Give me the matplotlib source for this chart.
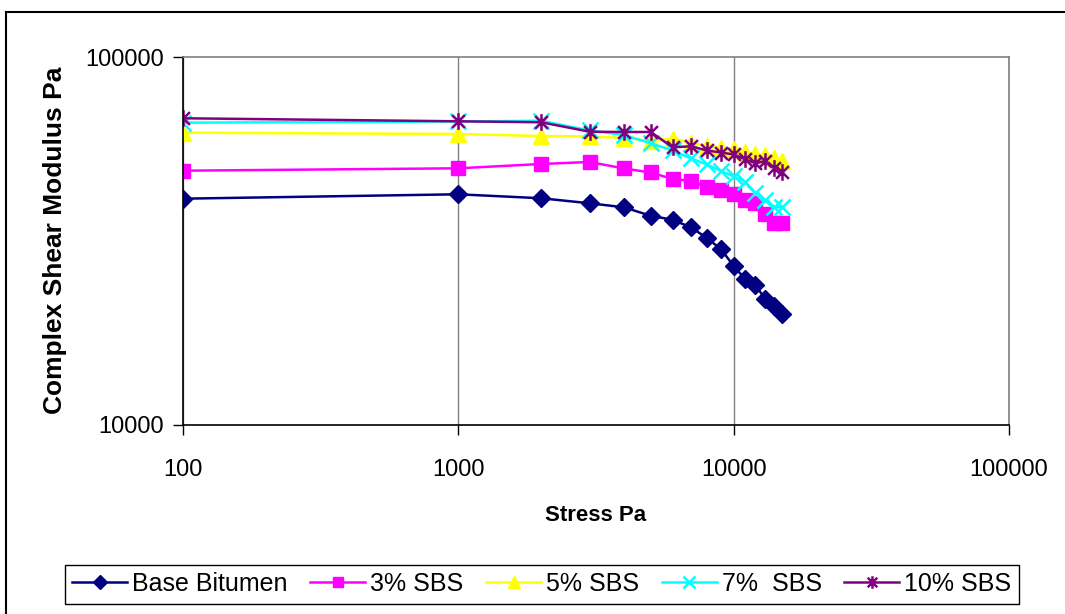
import matplotlib
matplotlib.use("Agg")
import matplotlib.pyplot as plt
from matplotlib.path import Path
from matplotlib.lines import Line2D
from matplotlib.ticker import FixedLocator, FixedFormatter, NullLocator

plt.rcParams['font.family'] = ['Liberation Sans', 'DejaVu Sans']

stress = [100, 1000, 2000, 3000, 4000, 5000, 6000, 7000, 8000, 9000,
          10000, 11000, 12000, 13000, 14000, 15000]

base_bitumen = [41160, 42310, 41270, 39990, 38990, 36970, 36080, 34370, 32170,
                29970, 27000, 24890, 23970, 21950, 21050, 19950]
sbs_3 = [49050, 49790, 51150, 51800, 49730, 48500, 46560, 46040, 44200,
         43470, 42390, 40900, 40060, 37390, 35410, 35410]
sbs_5 = [62230, 61730, 60950, 60770, 60200, 59080, 60010, 58460, 57260,
         56550, 56020, 55150, 54290, 53950, 53120, 52120]
sbs_7 = [66260, 66760, 67060, 63100, 61340, 58240, 55670, 52950, 50990,
         48960, 47300, 45790, 42580, 40820, 39140, 38950]
sbs_10 = [68120, 66840, 66430, 62620, 62510, 62510, 56800, 57150, 55670,
          54970, 54290, 52720, 51370, 52120, 50040, 48560]

series_names = ["Base Bitumen", "3% SBS", "5% SBS", "7%  SBS", "10% SBS"]
x_ticks = [100, 1000, 10000, 100000]
x_tick_labels = ["100", "1000", "10000", "100000"]
y_ticks = [10000, 100000]
y_tick_labels = ["10000", "100000"]

star = Path([(-1, -1), (1, 1), (-1, 1), (1, -1), (0, -1.3), (0, 1.3)],
            [Path.MOVETO, Path.LINETO, Path.MOVETO, Path.LINETO, Path.MOVETO, Path.LINETO])

fig = plt.figure(figsize=(10.65, 6.14), dpi=100)
ax = fig.add_axes([183 / 1065, 1 - 424.5 / 614, (1009 - 183) / 1065, (424.5 - 57) / 614])

styles = [
    dict(color="#000080", marker="D", markersize=9, markerfacecolor="#000080", markeredgecolor="#000080"),
    dict(color="#FF00FF", marker="s", markersize=10, markerfacecolor="#FF00FF", markeredgecolor="#FF00FF"),
    dict(color="#FFFF00", marker="^", markersize=12, markerfacecolor="#FFFF00", markeredgecolor="#FFFF00"),
    dict(color="#00FFFF", marker="x", markersize=11, markeredgewidth=1.8, markeredgecolor="#00FFFF"),
    dict(color="#800080", marker=star, markersize=12, markeredgewidth=1.8, markeredgecolor="#800080",
         markerfacecolor="none"),
]
data = [base_bitumen, sbs_3, sbs_5, sbs_7, sbs_10]
handles = []
for name, vals, st in zip(series_names, data, styles):
    h, = ax.plot(stress, vals, linewidth=1.8, label=name, **st)
    handles.append(h)

ax.set_xscale("log")
ax.set_yscale("log")
ax.set_xlim(100, 100000)
ax.set_ylim(10000, 100000)
ax.xaxis.set_major_locator(FixedLocator(x_ticks))
ax.xaxis.set_major_formatter(FixedFormatter(x_tick_labels))
ax.xaxis.set_minor_locator(NullLocator())
ax.yaxis.set_major_locator(FixedLocator(y_ticks))
ax.yaxis.set_major_formatter(FixedFormatter(y_tick_labels))
ax.yaxis.set_minor_locator(NullLocator())
ax.grid(True, axis="x", color="#808080", linewidth=1.0)
ax.set_axisbelow(True)

for s in ["top", "right"]:
    ax.spines[s].set_color("#808080")
    ax.spines[s].set_linewidth(1.2)
for s in ["left", "bottom"]:
    ax.spines[s].set_color("#000000")
    ax.spines[s].set_linewidth(1.2)

ax.tick_params(axis="both", direction="out", length=7, width=1.0, labelsize=17, color="#000000")
ax.tick_params(axis="x", pad=18)
ax.tick_params(axis="y", pad=7)

ax.set_xlabel("Stress Pa", fontsize=16, fontweight="bold", labelpad=17)
ax.set_ylabel("Complex Shear Modulus Pa", fontsize=19, fontweight="bold", labelpad=13)

leg = fig.legend(handles=handles, labels=series_names, ncol=5, loc="center",
                 bbox_to_anchor=(542 / 1065, 1 - 584 / 614), fontsize=18,
                 frameon=True, fancybox=False, edgecolor="#000000", framealpha=1,
                 handlelength=2.2, handletextpad=0.2, columnspacing=0.9, borderpad=0.3,
                 markerscale=0.75)
leg.get_frame().set_linewidth(1.0)

# outer chart border
fig.add_artist(Line2D([6 / 1065, 6 / 1065], [0, 1 - 12 / 614], color="black", linewidth=1.5,
                      transform=fig.transFigure))
fig.add_artist(Line2D([6 / 1065, 1], [1 - 12 / 614, 1 - 12 / 614], color="black", linewidth=1.5,
                      transform=fig.transFigure))

fig.savefig("out.png", dpi=100)
